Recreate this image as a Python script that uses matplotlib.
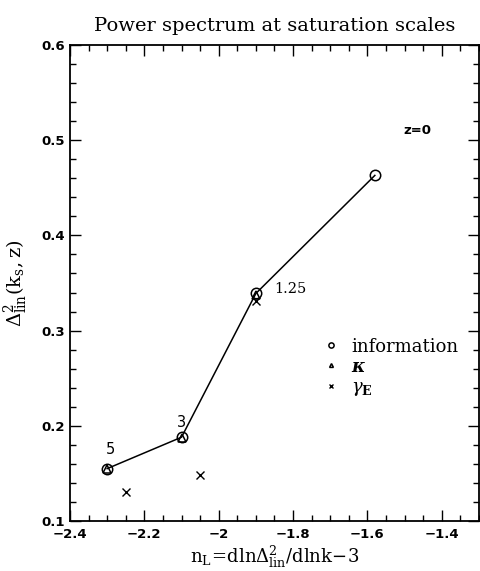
import matplotlib
matplotlib.use("Agg")
import matplotlib.pyplot as plt
from matplotlib.ticker import MultipleLocator

plt.rcParams["mathtext.fontset"] = "dejavuserif"

# datos
n_info = [-2.3, -2.1, -1.9, -1.58]
d_info = [0.155, 0.188, 0.339, 0.463]

n_kappa = [-2.3, -2.1, -1.9]
d_kappa = [0.155, 0.187, 0.337]

n_gamma = [-2.25, -2.05, -1.9]
d_gamma = [0.130, 0.148, 0.331]

etiquetas = ["5", "3", "1.25"]

fig = plt.figure(figsize=(4.8, 5.71), dpi=100)
ax = fig.add_axes([0.1458, 0.0876, 0.852, 0.8336])

# linea y marcadores
ax.plot(n_info, d_info, color="black", lw=1.1, zorder=1)
ax.plot(n_info, d_info, "o", ms=7.5, mfc="none", mec="black", mew=1.1, ls="none", label="information")
ax.plot(n_kappa, d_kappa, "^", ms=5.5, mfc="none", mec="black", mew=1.1, ls="none", label=r"$\boldsymbol{\kappa}$")
ax.plot(n_gamma, d_gamma, "x", ms=5.5, color="black", mew=1.0, ls="none", label=r"$\gamma_{\mathbf{E}}$")

# numeros junto a los puntos
ax.text(n_info[0] + 0.01, d_info[0] + 0.012, etiquetas[0], ha="center", va="bottom", fontsize=10.5)
ax.text(n_info[1], d_info[1] + 0.008, etiquetas[1], ha="center", va="bottom", fontsize=10.5)
ax.text(n_info[2] + 0.05, d_info[2] + 0.005, etiquetas[2], ha="left", va="center", fontsize=10.5,
        family="DejaVu Serif")

ax.text(0.849, 0.82, "z=0", transform=ax.transAxes, ha="center", va="center",
        fontsize=9.5, fontweight="bold", family="DejaVu Sans")

leg = ax.legend(loc="center left", bbox_to_anchor=(0.582, 0.322), frameon=False,
                handlelength=0.8, handletextpad=0.7, labelspacing=0.12,
                markerscale=0.5, prop={"family": "DejaVu Serif", "size": 13})

ax.set_xlim(-2.4, -1.3)
ax.set_ylim(0.1, 0.6)
ax.xaxis.set_major_locator(MultipleLocator(0.2))
ax.xaxis.set_minor_locator(MultipleLocator(0.05))
ax.yaxis.set_major_locator(MultipleLocator(0.1))
ax.yaxis.set_minor_locator(MultipleLocator(0.02))
ax.tick_params(which="both", direction="in", top=True, right=True, width=1)
ax.tick_params(which="major", length=8)
ax.tick_params(which="minor", length=4)
ax.tick_params(axis="x", which="major", pad=5)
ax.set_xticks([-2.4, -2.2, -2.0, -1.8, -1.6, -1.4])
ax.set_xticklabels(["\u22122.4", "\u22122.2", "\u22122", "\u22121.8", "\u22121.6", "\u22121.4"])
for lab in ax.get_xticklabels() + ax.get_yticklabels():
    lab.set_fontweight("bold")
    lab.set_fontsize(9.5)
for s in ax.spines.values():
    s.set_linewidth(1.3)

ax.set_title("Power spectrum at saturation scales", family="DejaVu Serif", fontsize=14, pad=10)
ax.set_xlabel(r"$\mathrm{n_L\!=\!dln\Delta^2_{lin}/dlnk\!-\!3}$", fontsize=13, labelpad=2)
ax.set_ylabel(r"$\mathrm{\Delta^2_{lin}(k_s,z)}$", fontsize=14, labelpad=8)

fig.savefig("out.png", dpi=100)
